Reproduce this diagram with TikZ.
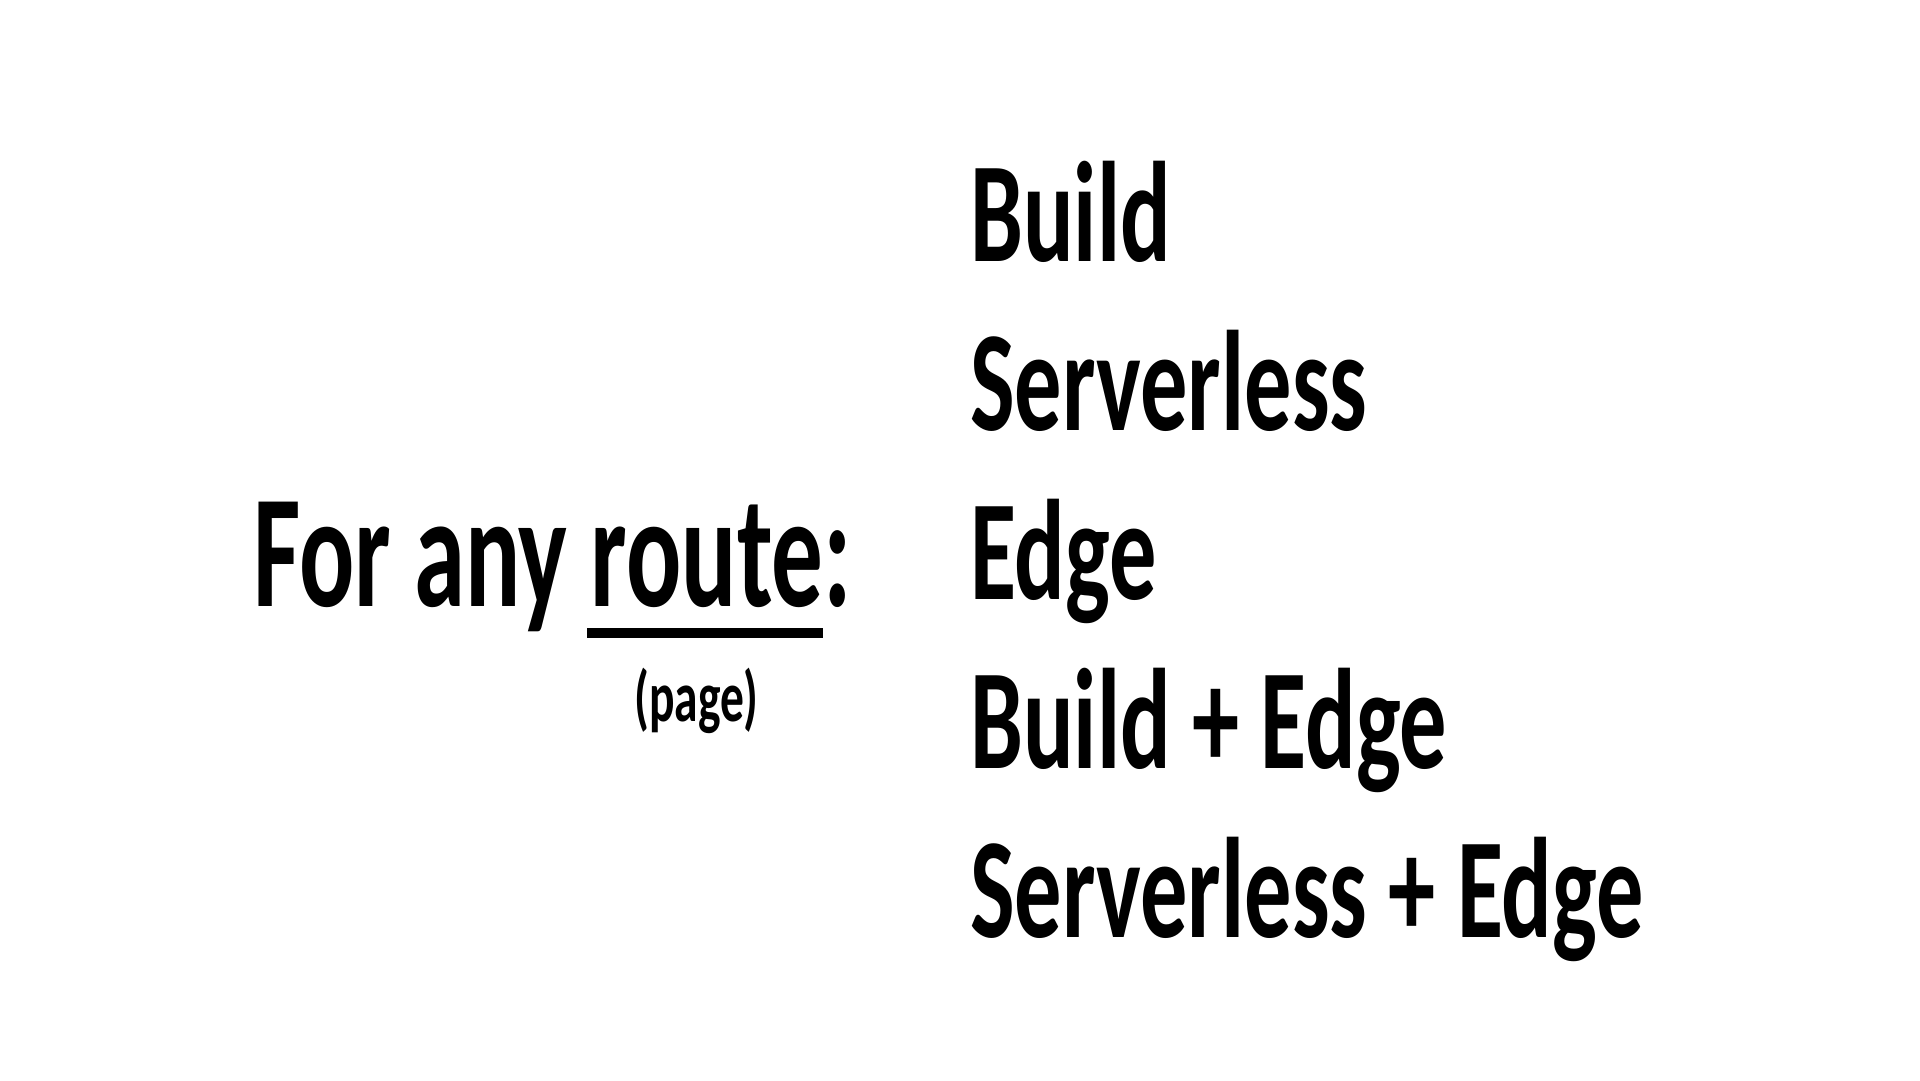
\documentclass[tikz,border=0pt]{standalone}
\usepackage{fontspec}
\newfontfamily\cf{Carlito}[FakeStretch=0.64]
\newfontfamily\cfw{Carlito}[FakeStretch=0.66]
\begin{document}
\begin{tikzpicture}[x=1pt,y=1pt,
  item/.style={anchor=base west, inner sep=0pt, font=\cfw\bfseries\fontsize{143}{150}\selectfont},
  lead/.style={anchor=base west, inner sep=0pt, font=\cf\bfseries\fontsize{161}{170}\selectfont},
  sub/.style={anchor=base west, inner sep=0pt, font=\cfw\bfseries\fontsize{72}{78}\selectfont}]
\useasboundingbox[fill=white] (0,0) rectangle (1920,-1080);
\node[lead] (lead) at (253,-606) {For any route:};
\coordinate (ul1) at (587,-633);
\coordinate (ul2) at (823,-633);
\draw[line width=10pt] (ul1) -- (ul2);
\node[sub] (page) at (634,-721) {(page)};
\node[item] (b) at (970,-261) {Build};
\node[item] (s) at (970,-430) {Serverless};
\node[item] (e) at (970,-599) {Edge};
\node[item] (be) at (970,-768) {Build + Edge};
\node[item] (se) at (970,-937) {Serverless + Edge};
\end{tikzpicture}
\end{document}
